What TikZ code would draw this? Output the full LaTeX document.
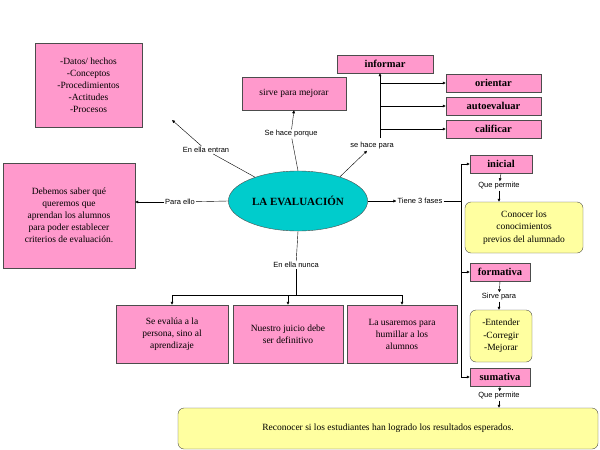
\documentclass[tikz,border=0pt]{standalone}
\usepackage{fontspec}
\setmainfont{Liberation Serif}
\newfontfamily\lab{Liberation Sans}
\usetikzlibrary{shapes.geometric,arrows.meta}
\definecolor{pk}{RGB}{255,153,204}
\definecolor{yl}{RGB}{255,255,160}
\definecolor{cy}{RGB}{0,204,204}
\begin{document}
\begin{tikzpicture}[x=1pt,y=-1pt,
 pbox/.style={draw=black!70,fill=pk,align=center,font=\fontsize{9.5}{12}\selectfont,inner sep=1pt},
 hbox/.style={draw=black!70,fill=pk,font=\bfseries\fontsize{10.5}{12}\selectfont,inner sep=0pt},
 ybox/.style={draw=black!70,fill=yl,rounded corners=6pt,align=center,font=\fontsize{9.5}{12.5}\selectfont,inner sep=1pt},
 lbl/.style={font=\lab\fontsize{7.5}{9}\selectfont,inner sep=1pt,fill=white},
 ar/.style={-{Latex[length=3pt,width=3pt]},thin},
 ln/.style={thin}]
\useasboundingbox (0,0) rectangle (600,450);
\fill[white] (0,0) rectangle (600,450);
% boxes
\node[pbox,minimum width=107,minimum height=84] (datos) at (88.5,85) {-Datos/ hechos\\-Conceptos\\-Procedimientos\\-Actitudes\\-Procesos};
\node[pbox,minimum width=104,minimum height=33] (sirve) at (294,93.5) {sirve para mejorar};
\node[hbox,minimum width=96,minimum height=18] (inf) at (385,64) {informar};
\node[hbox,minimum width=95,minimum height=18] (ori) at (493.5,83) {orientar};
\node[hbox,minimum width=95,minimum height=18] (aut) at (493.5,106) {autoevaluar};
\node[hbox,minimum width=95,minimum height=18] (cal) at (493.5,129) {calificar};
\node[ellipse,draw=black!70,fill=cy,minimum width=126,minimum height=60,font=\bfseries\fontsize{11}{12}\selectfont] (ev) at (298,201) {LA EVALUACIÓN};
\node[pbox,minimum width=132,minimum height=105] (deb) at (69,215.5) {Debemos saber qué\\queremos que\\aprendan los alumnos\\para poder establecer\\criterios de evaluación.};
\node[hbox,minimum width=62,minimum height=18] (ini) at (501,164) {inicial};
\node[ybox,minimum width=118,minimum height=51] (con) at (524,227.5) {Conocer los\\conocimientos\\previos del alumnado};
\node[hbox,minimum width=60,minimum height=18] (for) at (500,272) {formativa};
\node[ybox,minimum width=62,minimum height=52] (ent) at (501,336) {-Entender\\-Corregir\\-Mejorar};
\node[hbox,minimum width=60,minimum height=18] (sum) at (500,377) {sumativa};
\node[ybox,minimum width=420,minimum height=41] (rec) at (388,428.5) {Reconocer si los estudiantes han logrado los resultados esperados.};
\node[pbox,minimum width=112,minimum height=58] (b1) at (172,334) {Se evalúa a la\\persona, sino al\\aprendizaje};
\node[pbox,minimum width=110,minimum height=58] (b2) at (288,334) {Nuestro juicio debe\\ser definitivo};
\node[pbox,minimum width=110,minimum height=58] (b3) at (402,334) {La usaremos para\\humillar a los\\alumnos};
% labels
\node[lbl] (lentran) at (206,150) {En ella entran};
\node[lbl] (lporque) at (291,134) {Se hace porque};
\node[lbl] (lpara) at (372,146) {se hace para};
\node[lbl] (lello) at (180,202) {Para ello};
\node[lbl] (lfases) at (420,201) {Tiene 3 fases};
\node[lbl] (lnunca) at (296,265) {En ella nunca};
\node[lbl,fill=none] (lq1) at (499,186) {Que permite};
\node[lbl,fill=none] (lsp) at (499,297) {Sirve para};
\node[lbl,fill=none] (lq2) at (499,396) {Que permite};
% connectors
\draw[ln] (ev) -- (lentran);
\draw[ar] (lentran) -- (172,120) coordinate (c1);
\draw[ar] (lporque) -- (sirve.south);
\draw[ln] (ev.north) -- (lporque);
\draw[ar] (ev.30) -- (lpara);
\coordinate (vb) at (380,138);
\draw[ar] (vb) -- (inf.south -| vb);
\foreach \t in {ori,aut,cal} \draw[ar] (vb |- \t.west) -- (\t.west);
\draw[ln] (ev.west) -- (lello);
\draw[ar] (lello) -- (deb.east |- lello);
\draw[ar] (ev.east) -- (lfases);
\coordinate (vx) at (461,201);
\draw[ln] (lfases) -- (vx);
\draw[ln] (vx |- ini) -- (vx |- sum);
\foreach \t in {ini,for,sum} \draw[ar] (vx |- \t.west) -- (\t.west);
\draw[ar] (ini.south) -- (lq1);
\draw[ar] (lq1) -- (con.north -| lq1);
\draw[ar] (for.south) -- (lsp);
\draw[ar] (lsp) -- (ent.north -| lsp);
\draw[ar] (sum.south) -- (lq2);
\draw[ar] (lq2) -- (rec.north -| lq2);
\draw[ln] (ev.south) -- (lnunca);
\coordinate (hb) at (296,295);
\draw[ln] (lnunca) -- (hb);
\draw[ln] (b1.north |- hb) -- (b3.north |- hb);
\foreach \t in {b1,b2,b3} \draw[ar] (\t.north |- hb) -- (\t.north);
\end{tikzpicture}
\end{document}
